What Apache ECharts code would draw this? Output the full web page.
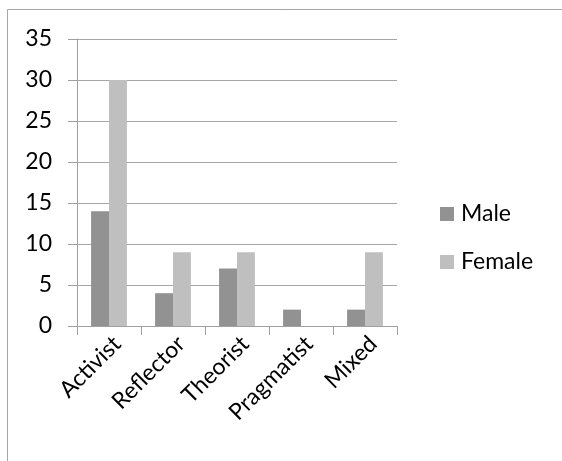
<!DOCTYPE html>
<html>
<head>
<meta charset="utf-8">
<script src="https://cdn.jsdelivr.net/npm/echarts@6/dist/echarts.min.js"></script>
<style>
  html, body { margin: 0; padding: 0; background: #ffffff; }
  #chart { width: 562px; height: 461px; }
</style>
</head>
<body>
<div id="chart"></div>
<script>
// Learning style counts by gender
const categories = ['Activist', 'Reflector', 'Theorist', 'Pragmatist', 'Mixed'];
const maleValues = [14, 4, 7, 2, 2];
const femaleValues = [30, 9, 9, 0, 9];
const yTicks = [0, 5, 10, 15, 20, 25, 30, 35];

const FONT = 'Lato';
const chart = echarts.init(document.getElementById('chart'), null, { renderer: 'canvas' });

chart.setOption({
  animation: false,
  backgroundColor: '#ffffff',
  textStyle: { fontFamily: FONT },
  graphic: [{
    type: 'rect',
    shape: { x: 7.5, y: 9.5, width: 600, height: 500 },
    style: { fill: 'none', stroke: '#a6a6a6', lineWidth: 1 },
    silent: true
  }],
  grid: { left: 77, right: 165, top: 39, bottom: 135, containLabel: false },
  legend: {
    orient: 'vertical',
    left: 435,
    top: 197,
    itemWidth: 14,
    itemHeight: 14,
    itemGap: 24,
    icon: 'rect',
    textStyle: { fontFamily: FONT, fontSize: 23, lineHeight: 24, color: '#000000', padding: [0, 0, 0, 2] },
    data: ['Male', 'Female']
  },
  xAxis: {
    type: 'category',
    data: categories,
    axisLine: { lineStyle: { color: '#a0a0a0', width: 1 } },
    axisTick: { show: true, length: 9, alignWithLabel: false, lineStyle: { color: '#a0a0a0' } },
    axisLabel: {
      rotate: 45,
      fontFamily: FONT,
      fontSize: 23,
      color: '#000000',
      margin: 6,
      verticalAlign: 'top',
      interval: 0
    }
  },
  yAxis: {
    type: 'value',
    min: yTicks[0],
    max: yTicks[yTicks.length - 1],
    interval: 5,
    axisLine: { show: true, lineStyle: { color: '#a0a0a0', width: 1 } },
    axisTick: { show: true, length: 9, lineStyle: { color: '#a0a0a0' } },
    splitLine: { show: true, lineStyle: { color: '#a6a6a6', width: 1 } },
    axisLabel: {
      fontFamily: FONT,
      fontSize: 23,
      color: '#000000',
      margin: 25
    }
  },
  series: [
    {
      name: 'Male',
      type: 'bar',
      data: maleValues,
      itemStyle: { color: '#929292' },
      barGap: '0%',
      barCategoryGap: '44%'
    },
    {
      name: 'Female',
      type: 'bar',
      data: femaleValues,
      itemStyle: { color: '#bfbfbf' },
      barGap: '0%',
      barCategoryGap: '44%'
    }
  ]
});
</script>
</body>
</html>
